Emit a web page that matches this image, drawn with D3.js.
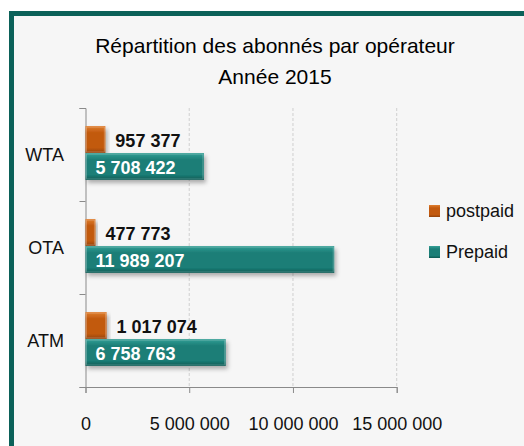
<!DOCTYPE html>
<html>
<head>
<meta charset="utf-8">
<script src="https://cdn.jsdelivr.net/npm/d3@7"></script>
<style>
  body { margin: 0; background: #fff; }
  text { font-family: "Liberation Sans", Arial, sans-serif; }
</style>
</head>
<body>
<svg id="chart"></svg>
<script>
var width = 524; // svg size
var height = 446;

// data
var operators = ["WTA", "OTA", "ATM"];
var series = ["postpaid", "Prepaid"];
var postpaid = [957377, 477773, 1017074];
var prepaid = [5708422, 11989207, 6758763];
var xTicks = [0, 5000000, 10000000, 15000000];

var colors = { postpaid: ["#e07f30", "#c25a0f", "#93420a"], Prepaid: ["#36a097", "#1b7e77", "#0d5953"] };

var svg = d3.select("#chart")
  .attr("width", width)
  .attr("height", height);

// frame
svg.append("rect").attr("x", 0).attr("y", 0).attr("width", width).attr("height", height).attr("fill", "#fff");
svg.append("rect")
  .attr("x", 11.5).attr("y", 13.5)
  .attr("width", 540).attr("height", 460)
  .attr("fill", "#f6f6f6")
  .attr("stroke", "#0b6159").attr("stroke-width", 5);

var defs = svg.append("defs");
series.forEach(function (s, i) {
  var g = defs.append("linearGradient").attr("id", "grad" + i)
    .attr("x1", 0).attr("y1", 0).attr("x2", 0).attr("y2", 1);
  g.append("stop").attr("offset", "0%").attr("stop-color", colors[s][0]);
  g.append("stop").attr("offset", "25%").attr("stop-color", colors[s][1]);
  g.append("stop").attr("offset", "80%").attr("stop-color", colors[s][1]);
  g.append("stop").attr("offset", "100%").attr("stop-color", colors[s][2]);
});
var shadow = defs.append("filter").attr("id", "shadow")
  .attr("x", "-10%").attr("y", "-20%").attr("width", "130%").attr("height", "160%");
shadow.append("feDropShadow").attr("dx", 2).attr("dy", 3).attr("stdDeviation", 2)
  .attr("flood-color", "#000").attr("flood-opacity", 0.3);

// title
svg.append("text").attr("x", 275).attr("y", 53).attr("text-anchor", "middle")
  .attr("font-size", 21).attr("fill", "#000").text("Répartition des abonnés par opérateur");
svg.append("text").attr("x", 275).attr("y", 84).attr("text-anchor", "middle")
  .attr("font-size", 21).attr("fill", "#000").text("Année 2015");

var x = d3.scaleLinear()
  .domain([0, 15000000])
  .range([85.5, 396.7]);

var y = d3.scaleBand()
  .domain(operators)
  .range([108, 387]);

var ySub = d3.scaleBand()
  .domain(series)
  .range([18, 72]);

// gridlines
svg.append("g").selectAll("line")
  .data(xTicks.slice(1))
  .join("line")
  .attr("x1", (d) => x(d)).attr("x2", (d) => x(d))
  .attr("y1", 108).attr("y2", 387)
  .attr("stroke", "#cfcfcf").attr("stroke-dasharray", "3,2");

// axes
var fmt = function (d) { return d3.format(",")(d).replace(/,/g, " "); };
var xAxis = svg.append("g").attr("transform", "translate(0,387)")
  .call(d3.axisBottom(x).tickValues(xTicks).tickSize(6).tickPadding(24).tickFormat(fmt));
xAxis.select(".domain").attr("stroke", "#8a8a8a");
xAxis.selectAll(".tick line").attr("stroke", "#8a8a8a");
xAxis.selectAll(".tick text").attr("font-size", 18).attr("fill", "#111")
  .attr("font-family", "\"Liberation Sans\", Arial, sans-serif");

var yTickScale = d3.scaleLinear().domain([0, 3]).range([108, 387]);
var yAxis = svg.append("g").attr("transform", "translate(85.5,0)")
  .call(d3.axisLeft(yTickScale).ticks(3).tickSize(6).tickFormat(""));
yAxis.select(".domain").attr("stroke", "#8a8a8a");
yAxis.selectAll(".tick line").attr("stroke", "#8a8a8a");

// category labels
svg.append("g").selectAll("text")
  .data(operators)
  .join("text")
  .attr("x", 64)
  .attr("y", (d) => y(d) + y.bandwidth() / 2 + 6)
  .attr("text-anchor", "end")
  .attr("font-size", 18).attr("fill", "#111")
  .text((d) => d);

var rows = operators.map(function (op, i) {
  return [
    { op: op, s: "postpaid", v: postpaid[i], idx: 0 },
    { op: op, s: "Prepaid", v: prepaid[i], idx: 1 }
  ];
});
var bars = [].concat.apply([], rows);

// bars
svg.append("g").selectAll("rect")
  .data(bars)
  .join("rect")
  .attr("x", x(0))
  .attr("y", (d) => y(d.op) + ySub(d.s))
  .attr("width", (d) => x(d.v) - x(0))
  .attr("height", ySub.bandwidth())
  .attr("fill", (d) => "url(#grad" + d.idx + ")")
  .attr("filter", "url(#shadow)");

// bevel highlight
svg.append("g").selectAll("rect")
  .data(bars)
  .join("rect")
  .attr("x", x(0) + 1)
  .attr("y", (d) => y(d.op) + ySub(d.s) + 1)
  .attr("width", (d) => Math.max(0, x(d.v) - x(0) - 2))
  .attr("height", ySub.bandwidth() - 2)
  .attr("fill", "none")
  .attr("stroke", "rgba(255,255,255,0.25)")
  .attr("stroke-width", 1);

// value labels
svg.append("g").selectAll("text")
  .data(bars)
  .join("text")
  .attr("x", (d) => d.idx === 0 ? x(d.v) + 10 : x(0) + 10)
  .attr("y", (d) => y(d.op) + ySub(d.s) + ySub.bandwidth() - 6)
  .attr("font-size", 18).attr("font-weight", "bold")
  .attr("fill", (d) => d.idx === 0 ? "#111" : "#fff")
  .text((d) => fmt(d.v));

// legend
var legend = svg.append("g").selectAll("g")
  .data(series)
  .join("g")
  .attr("transform", (d, i) => "translate(429," + (205 + i * 41) + ")");
legend.append("rect")
  .attr("width", 11).attr("height", 12)
  .attr("fill", (d, i) => "url(#grad" + i + ")");
legend.append("text")
  .attr("x", 17).attr("y", 12)
  .attr("font-size", 18).attr("fill", "#111")
  .text((d) => d);
</script>
</body>
</html>
